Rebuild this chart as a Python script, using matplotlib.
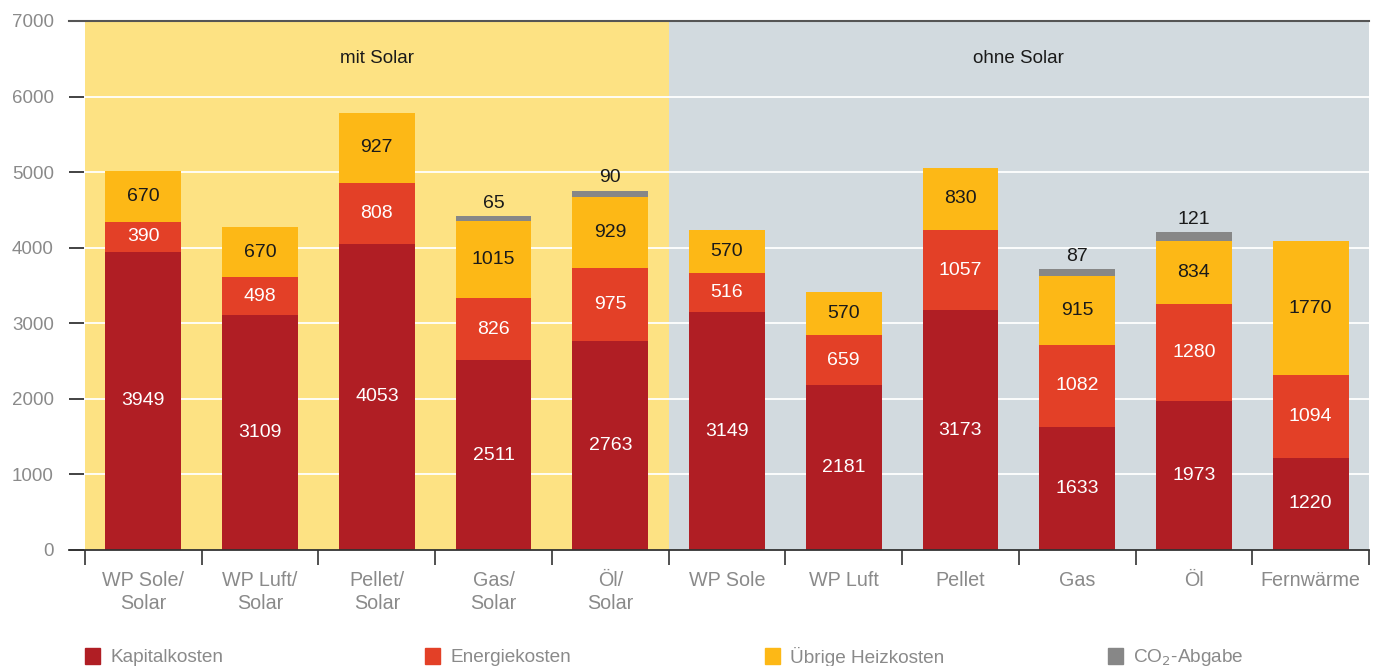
import matplotlib
matplotlib.use("Agg")
import matplotlib.pyplot as plt
from matplotlib.patches import Rectangle
import numpy as np

plt.rcParams['font.family'] = ['Liberation Sans', 'DejaVu Sans']

categories = ["WP Sole/\nSolar", "WP Luft/\nSolar", "Pellet/\nSolar", "Gas/\nSolar", "Öl/\nSolar",
              "WP Sole", "WP Luft", "Pellet", "Gas", "Öl", "Fernwärme"]
kapital = [3949, 3109, 4053, 2511, 2763, 3149, 2181, 3173, 1633, 1973, 1220]
energie = [390, 498, 808, 826, 975, 516, 659, 1057, 1082, 1280, 1094]
uebrige = [670, 670, 927, 1015, 929, 570, 570, 830, 915, 834, 1770]
co2 = [0, 0, 0, 65, 90, 0, 0, 0, 87, 121, 0]
series_names = ["Kapitalkosten", "Energiekosten", "Übrige Heizkosten", "CO$_2$-Abgabe"]
group_labels = ["mit Solar", "ohne Solar"]
yticks = [0, 1000, 2000, 3000, 4000, 5000, 6000, 7000]

c_kap = "#B01E24"
c_ene = "#E34027"
c_ueb = "#FDB816"
c_co2 = "#878787"
c_yel = "#FDE283"
c_gry = "#D2DADF"
c_txt = "#8A8A8A"

fig = plt.figure(figsize=(13.75, 6.66), dpi=100)
ax = fig.add_axes([69/1375, 1 - 550/666, 1300/1375, 529/666])

n = len(categories)
x = np.arange(n)
w = 0.65

ax.set_xlim(-0.5 - 16/116.7, n - 0.5)
ax.set_ylim(0, 7000)

ax.axvspan(-0.5, 4.5, color=c_yel, zorder=0, lw=0)
ax.axvspan(4.5, n - 0.5, color=c_gry, zorder=0, lw=0)
for yv in yticks[1:-1]:
    ax.plot([-0.5, n - 0.5], [yv, yv], color="white", lw=1.3, zorder=1)

kap = np.array(kapital); ene = np.array(energie); ueb = np.array(uebrige); co = np.array(co2)
ax.bar(x, kap, w, color=c_kap, zorder=2)
ax.bar(x, ene, w, bottom=kap, color=c_ene, zorder=2)
ax.bar(x, ueb, w, bottom=kap + ene, color=c_ueb, zorder=2)
ax.bar(x, co, w, bottom=kap + ene + ueb, color=c_co2, zorder=2)

fs = 14
for i in range(n):
    ax.text(x[i], kap[i] / 2, str(kap[i]), ha="center", va="center", color="white", fontsize=fs, zorder=3)
    ax.text(x[i], kap[i] + ene[i] / 2, str(ene[i]), ha="center", va="center", color="white", fontsize=fs, zorder=3)
    ax.text(x[i], kap[i] + ene[i] + ueb[i] / 2, str(ueb[i]), ha="center", va="center", color="#1a1a1a", fontsize=fs, zorder=3)
    if co[i] > 0:
        ax.annotate(str(co[i]), (x[i], kap[i] + ene[i] + ueb[i] + co[i]), xytext=(0, 3),
                    textcoords="offset points", ha="center", va="bottom", color="#1a1a1a", fontsize=fs, zorder=3)

ax.text(2, 6510, group_labels[0], ha="center", va="center", fontsize=13.5, color="#1a1a1a")
ax.text(7.5, 6510, group_labels[1], ha="center", va="center", fontsize=13.5, color="#1a1a1a")

# axes styling
for s in ["left", "right"]:
    ax.spines[s].set_visible(False)
ax.spines["top"].set_color("#555555")
ax.spines["top"].set_linewidth(1.5)
ax.spines["bottom"].set_color("#333333")
ax.spines["bottom"].set_linewidth(1.3)

ax.set_yticks(yticks)
ax.set_yticklabels([str(v) for v in yticks])
ax.tick_params(axis="y", direction="in", length=11, width=1.2, color="#222222",
               labelcolor=c_txt, labelsize=13.5, pad=11)

ax.set_xticks(x)
ax.set_xticklabels(categories, linespacing=1.25)
ax.set_xticks(np.arange(-0.5, n, 1.0), minor=True)
ax.tick_params(axis="x", which="major", length=0, labelcolor=c_txt, labelsize=14.2, pad=15)
ax.tick_params(axis="x", which="minor", length=11, width=1.2, color="#333333", direction="out")

# legend
leg_x = [85, 425, 765, 1108]
leg_col = [c_kap, c_ene, c_ueb, c_co2]
for lx, col, name in zip(leg_x, leg_col, series_names):
    fig.add_artist(Rectangle((lx / 1375, 1 - 664 / 666), 15 / 1375, 16 / 666,
                             transform=fig.transFigure, color=col))
    fig.text((lx + 25) / 1375, 1 - 657 / 666, name, ha="left", va="center", fontsize=13.7, color=c_txt)

fig.savefig("out.png", dpi=100)
